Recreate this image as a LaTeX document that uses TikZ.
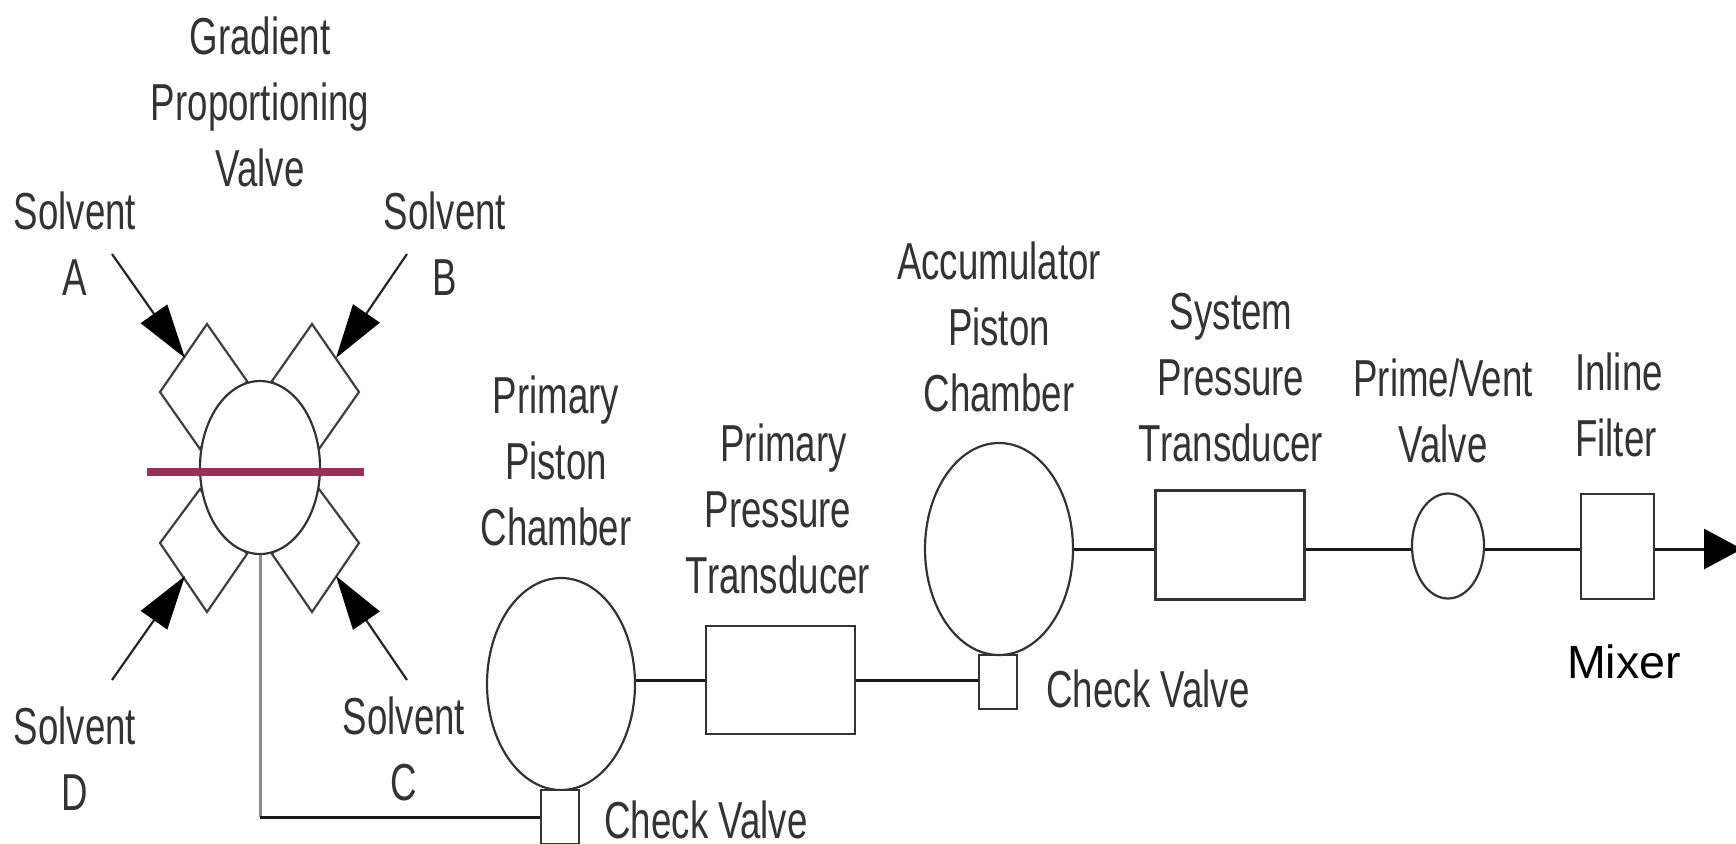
\documentclass[tikz,border=0pt]{standalone}
\usepackage{fontspec}
\setmainfont{Liberation Sans}
\newfontfamily\narrowfont[FakeStretch=0.705]{Liberation Sans}
\usetikzlibrary{shapes.geometric,arrows.meta,calc}
\tikzset{
  x=0.5pt,y=-0.5pt,
  lbl/.style={font=\narrowfont\fontsize{26pt}{33pt}\selectfont,align=center,inner sep=0pt,text=black!80},
  mixlbl/.style={font=\fontsize{23.3pt}{28pt}\selectfont,inner sep=0pt,text=black},
  part/.style={draw=black!80,line width=1.1pt,fill=white,inner sep=0pt},
  chamber/.style={part,ellipse,minimum width=74pt,minimum height=106pt},
  pipe/.style={draw=black!90,line width=1.5pt},
  feed/.style={draw=black!85,line width=1.1pt,-{Triangle[length=27pt,width=16pt,color=black]}},
  port/.style={draw=black!75,line width=1.1pt,fill=white},
}
\begin{document}
\begin{tikzpicture}
\useasboundingbox (0,0) rectangle (1736,843);
% valve ports
\draw[port] (207,324) -- (160,392) -- (200,449) -- (247,381) -- cycle;
\draw[port] (312,324) -- (359,392) -- (319,449) -- (272,381) -- cycle;
\draw[port] (200,489) -- (160,543) -- (207,612) -- (247,554) -- cycle;
\draw[port] (319,489) -- (359,543) -- (312,612) -- (272,554) -- cycle;
% valve body
\node[part,ellipse,minimum width=60pt,minimum height=86.5pt] (gpv) at (260,467.5) {};
% parts
\node[chamber] (prim) at (561,684) {};
\node[part,rectangle,minimum width=19pt,minimum height=27pt] (chkA) at (560,817) {};
\node[part,rectangle,minimum width=74.5pt,minimum height=54pt] (ppt) at (780.5,680) {};
\node[part,rectangle,minimum width=19pt,minimum height=27pt] (chkB) at (998,682) {};
\node[chamber] (acc) at (999,549) {};
\node[part,rectangle,minimum width=74.5pt,minimum height=54.5pt] (spt) at (1230,545) {};
\node[part,ellipse,minimum width=36pt,minimum height=52.5pt] (pvv) at (1448,546) {};
\node[part,rectangle,minimum width=36.5pt,minimum height=52.5pt] (filt) at (1617.5,546.5) {};
% feeds
\coordinate (inA) at (112,254); \coordinate (tipA) at (185,358);
\coordinate (inB) at (407,254); \coordinate (tipB) at (336,358);
\coordinate (inC) at (407,680); \coordinate (tipC) at (336,576);
\coordinate (inD) at (112,680); \coordinate (tipD) at (185,576);
\draw[feed] (inA) -- (tipA);
\draw[feed] (inB) -- (tipB);
\draw[feed] (inC) -- (tipC);
\draw[feed] (inD) -- (tipD);
% proportioning bar
\coordinate (barL) at (147,472); \coordinate (barR) at (364,472);
\draw[draw={rgb,255:red,152;green,48;blue,88},line width=4pt] (barL) -- (barR);
% pipes
\coordinate (corner) at (gpv.south |- chkA.west);
\draw[draw=black!45,line width=1.5pt] (gpv.south) -- (corner);
\draw[pipe] (corner) -- (chkA.west);
\draw[pipe] (ppt.west -| prim.east) -- (ppt.west);
\draw[pipe] (ppt.east) -- (ppt.east -| chkB.west);
\coordinate (outEnd) at (1742,549);
\draw[pipe] (acc.east) -- (acc.east -| spt.west);
\draw[pipe] (spt.east |- acc.east) -- (pvv.west |- acc.east);
\draw[pipe] (pvv.east |- acc.east) -- (filt.west |- acc.east);
\draw[pipe,-{Triangle[length=19pt,width=20pt,color=black]}] (filt.east |- acc.east) -- (outEnd);
% labels
\node[lbl] (tGPV) at (260,102) {Gradient\\Proportioning\\Valve};
\node[lbl] (tA) at (75,244) {Solvent\\A};
\node[lbl] (tB) at (445,244) {Solvent\\B};
\node[lbl] (tC) at (404,749) {Solvent\\C};
\node[lbl] (tD) at (75,759) {Solvent\\D};
\node[lbl] (tPrim) at (556,461) {Primary\\Piston\\Chamber};
\node[lbl] (tPPT) at (778,509) {\hspace*{5.5pt}Primary\\Pressure\\Transducer};
\node[lbl] (tAcc) at (999,327) {Accumulator\\Piston\\Chamber};
\node[lbl] (tSPT) at (1231,378) {System\\Pressure\\Transducer};
\node[lbl] (tPV) at (1443,411) {Prime/Vent\\Valve};
\node[lbl] (tIF) at (1616,405) {\hspace*{3pt}Inline\\Filter};
\node[lbl] (tCV1) at (1148,689) {Check Valve};
\node[lbl] (tCV2) at (706,820) {Check Valve};
\node[mixlbl] (tMix) at (1624,662) {Mixer};
\end{tikzpicture}
\end{document}
